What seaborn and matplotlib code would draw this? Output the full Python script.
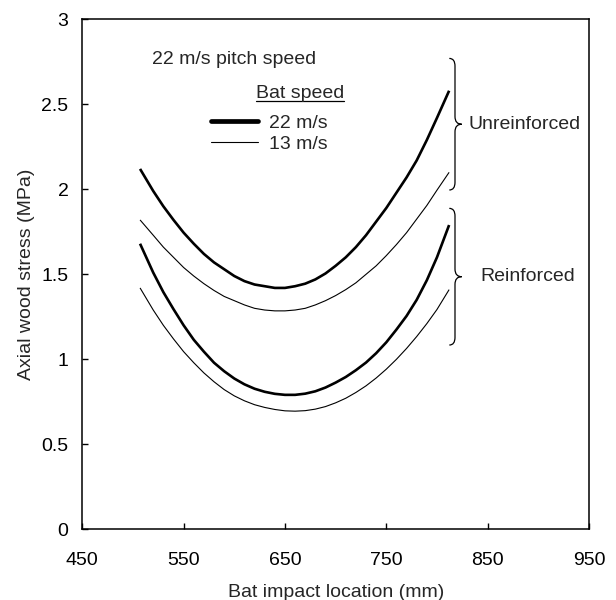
import numpy as np
import pandas as pd
import matplotlib.pyplot as plt
import seaborn as sns
from matplotlib.lines import Line2D
from matplotlib.path import Path
from matplotlib.patches import PathPatch

# impact locations (mm)
location = [507, 520, 530, 540, 550, 560, 570, 580, 590, 600, 610, 620, 630, 640, 650,
            660, 670, 680, 690, 700, 710, 720, 730, 740, 750, 760, 770, 780, 790, 800, 812]

# axial wood stress (MPa)
unreinf_22 = [2.12, 1.99, 1.90, 1.82, 1.745, 1.68, 1.62, 1.57, 1.53, 1.49, 1.46, 1.44, 1.43, 1.42, 1.42,
              1.43, 1.445, 1.47, 1.505, 1.55, 1.60, 1.66, 1.73, 1.81, 1.89, 1.98, 2.07, 2.17, 2.29, 2.42, 2.58]
unreinf_13 = [1.82, 1.73, 1.66, 1.60, 1.54, 1.49, 1.445, 1.405, 1.37, 1.345, 1.32, 1.30, 1.29, 1.285, 1.285,
              1.29, 1.30, 1.32, 1.345, 1.375, 1.41, 1.45, 1.50, 1.55, 1.61, 1.675, 1.745, 1.825, 1.905, 1.995, 2.10]
reinf_22 = [1.68, 1.51, 1.395, 1.295, 1.20, 1.115, 1.045, 0.98, 0.93, 0.887, 0.853, 0.827, 0.809, 0.797, 0.791,
            0.791, 0.798, 0.812, 0.834, 0.863, 0.896, 0.936, 0.981, 1.036, 1.10, 1.175, 1.255, 1.35, 1.465, 1.60, 1.79]
reinf_13 = [1.42, 1.29, 1.20, 1.12, 1.045, 0.98, 0.92, 0.868, 0.822, 0.785, 0.756, 0.733, 0.717, 0.705, 0.697,
            0.695, 0.698, 0.707, 0.722, 0.744, 0.771, 0.805, 0.844, 0.89, 0.942, 1.0, 1.064, 1.134, 1.21, 1.293, 1.41]

bat_speeds = ["22 m/s", "13 m/s"]
x_ticks = [450, 550, 650, 750, 850, 950]
y_ticks = [0, 0.5, 1, 1.5, 2, 2.5, 3]
y_ticklabels = ["0", "0.5", "1", "1.5", "2", "2.5", "3"]

# groups for the braces: (label, top, bottom)
groups = [("Unreinforced", 2.77, 1.996), ("Reinforced", 1.888, 1.084)]

sns.set_style("ticks")
plt.rcParams["font.family"] = ["Liberation Sans", "DejaVu Sans"]
plt.rcParams["font.size"] = 14

fig = plt.figure(figsize=(6.16, 6.0), dpi=100)
ax = fig.add_axes([0.1336, 0.1178, 0.8225, 0.85])

curves = [
    (unreinf_22, 1.9),
    (unreinf_13, 0.8),
    (reinf_22, 1.9),
    (reinf_13, 0.8),
]
for vals, lw in curves:
    sns.lineplot(x=location, y=vals, color="black", linewidth=lw, ax=ax, legend=False,
                 solid_joinstyle="round", solid_capstyle="butt")

ax.set_xlim(450, 950)
ax.set_ylim(0, 3)
ax.set_xticks(x_ticks)
ax.set_yticks(y_ticks)
ax.set_yticklabels(y_ticklabels)
ax.tick_params(axis="both", direction="in", length=4, width=1, colors="black", labelsize=14)
ax.tick_params(axis="x", pad=16.5)
ax.tick_params(axis="y", pad=10)
for s in ax.spines.values():
    s.set_linewidth(1.1)
    s.set_color("black")
    s.set_visible(True)

ax.set_xlabel("Bat impact location (mm)", fontsize=14)
ax.set_ylabel("Axial wood stress (MPa)", fontsize=14)
ax.xaxis.set_label_coords(0.5, -0.108)
ax.yaxis.set_label_coords(-0.093, 0.5)

ax.text(518.5, 2.766, "22 m/s pitch speed", fontsize=14, ha="left", va="center")
title = ax.text(621.4, 2.565, "Bat speed", fontsize=14, ha="left", va="center")

handles = [
    Line2D([], [], color="black", lw=3.4),
    Line2D([], [], color="black", lw=0.8),
]
ax.legend(handles, bat_speeds, loc="upper left", bbox_to_anchor=(0.254, 0.813),
          frameon=False, fontsize=14, handlelength=2.4, handletextpad=0.6,
          labelspacing=0.15, borderpad=0, borderaxespad=0)

# underline the legend title
fig.canvas.draw()
bb = title.get_window_extent().transformed(ax.transData.inverted())
ax.plot([bb.x0, bb.x1], [2.52, 2.52], color="black", lw=0.9)


def brace(ax, y_top, y_bot, x_hook=812.2, x_body=817.8, x_tip=824.4, r=0.045):
    y_mid = (y_top + y_bot) / 2
    verts = [
        (x_hook, y_top), (x_body, y_top), (x_body, y_top - r),
        (x_body, y_mid + r),
        (x_body, y_mid), (x_tip, y_mid),
        (x_body, y_mid), (x_body, y_mid - r),
        (x_body, y_bot + r),
        (x_body, y_bot), (x_hook, y_bot),
    ]
    codes = [Path.MOVETO, Path.CURVE3, Path.CURVE3, Path.LINETO,
             Path.CURVE3, Path.CURVE3, Path.CURVE3, Path.CURVE3,
             Path.LINETO, Path.CURVE3, Path.CURVE3]
    ax.add_patch(PathPatch(Path(verts, codes), fill=False, color="black", lw=0.9))
    return y_mid


label_x = {"Unreinforced": 830.9, "Reinforced": 842.7}
for name, top, bot in groups:
    y_mid = brace(ax, top, bot)
    ax.text(label_x[name], y_mid, name, fontsize=14, ha="left", va="center")

fig.savefig("out.png", dpi=100)
